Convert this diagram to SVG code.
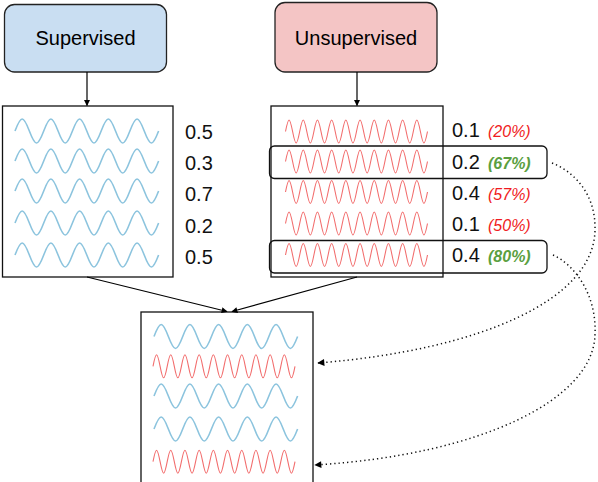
<svg xmlns="http://www.w3.org/2000/svg" xmlns:xlink="http://www.w3.org/1999/xlink" width="598" height="482" viewBox="0 0 598 482">
<style>
.lbl{font-family:"Liberation Sans",Arial,sans-serif;font-size:20px;fill:#000}
.val{font-family:"Liberation Sans",Arial,sans-serif;font-size:20px;fill:#111}
.pr{font-family:"Liberation Sans",Arial,sans-serif;font-size:16px;font-style:italic;fill:#f01b22}
.pg{font-family:"Liberation Sans",Arial,sans-serif;font-size:16px;font-style:italic;font-weight:bold;fill:#5b9f3f}
.box{fill:#fff;stroke:#111;stroke-width:1.3}
.hl{fill:none;stroke:#111;stroke-width:1.3}
.bw{fill:none;stroke:#8cc4de;stroke-width:1.6}
.rw{fill:none;stroke:#f26d6d;stroke-width:1.1}
.arr{fill:none;stroke:#000;stroke-width:1.2}
.dot{fill:none;stroke:#111;stroke-width:1.5;stroke-dasharray:1.3 3}
</style>
<defs>
<marker id="ah" viewBox="0 0 10 10" refX="9" refY="5" markerWidth="6" markerHeight="6" markerUnits="userSpaceOnUse" orient="auto">
<path d="M0,0 L10,5 L0,10 z" fill="#000"/>
</marker>
<marker id="ahd" viewBox="0 0 10 10" refX="9" refY="5" markerWidth="8" markerHeight="7" markerUnits="userSpaceOnUse" orient="auto">
<path d="M0,0 L10,5 L0,10 z" fill="#000"/>
</marker>
<path id="blue" class="bw" d="M0,0 c2.34,-6.15 4.58,-12 7.18,-12 s4.84,5.85 7.18,12 s4.58,12 7.18,12 s4.84,-5.85 7.18,-12 s4.58,-12 7.18,-12 s4.84,5.85 7.18,12 s4.58,12 7.18,12 s4.84,-5.85 7.18,-12 s4.58,-12 7.18,-12 s4.84,5.85 7.18,12 s4.58,12 7.18,12 s4.84,-5.85 7.18,-12 s4.58,-12 7.18,-12 s4.84,5.85 7.18,12 s4.58,12 7.18,12 s4.84,-5.85 7.18,-12 s4.58,-12 7.18,-12 s4.84,5.85 7.18,12 s4.58,12 7.18,12 s4.84,-5.85 7.18,-12"/>
<path id="red" class="rw" d="M0,0 c1.16,-5.89 2.27,-11.5 3.55,-11.5 s2.39,5.61 3.55,11.5 s2.27,11.5 3.55,11.5 s2.39,-5.61 3.55,-11.5 s2.27,-11.5 3.55,-11.5 s2.39,5.61 3.55,11.5 s2.27,11.5 3.55,11.5 s2.39,-5.61 3.55,-11.5 s2.27,-11.5 3.55,-11.5 s2.39,5.61 3.55,11.5 s2.27,11.5 3.55,11.5 s2.39,-5.61 3.55,-11.5 s2.27,-11.5 3.55,-11.5 s2.39,5.61 3.55,11.5 s2.27,11.5 3.55,11.5 s2.39,-5.61 3.55,-11.5 s2.27,-11.5 3.55,-11.5 s2.39,5.61 3.55,11.5 s2.27,11.5 3.55,11.5 s2.39,-5.61 3.55,-11.5 s2.27,-11.5 3.55,-11.5 s2.39,5.61 3.55,11.5 s2.27,11.5 3.55,11.5 s2.39,-5.61 3.55,-11.5 s2.27,-11.5 3.55,-11.5 s2.39,5.61 3.55,11.5 s2.27,11.5 3.55,11.5 s2.39,-5.61 3.55,-11.5 s2.27,-11.5 3.55,-11.5 s2.39,5.61 3.55,11.5 s2.27,11.5 3.55,11.5 s2.39,-5.61 3.55,-11.5 s2.27,-11.5 3.55,-11.5 s2.39,5.61 3.55,11.5 s2.27,11.5 3.55,11.5 s2.39,-5.61 3.55,-11.5 s2.27,-11.5 3.55,-11.5 s2.39,5.61 3.55,11.5 s2.27,11.5 3.55,11.5 s2.39,-5.61 3.55,-11.5"/>
</defs>
<rect width="598" height="482" fill="#fff"/>

<g id="supervised">
<rect x="4.5" y="4.5" width="162" height="67.5" rx="10" fill="#c9def2" stroke="#222" stroke-width="1.3"/>
<text class="lbl" x="85.5" y="45" text-anchor="middle">Supervised</text>
</g>

<g id="unsupervised">
<rect x="275" y="2.5" width="162" height="69.5" rx="10" fill="#f4c5c5" stroke="#222" stroke-width="1.3"/>
<text class="lbl" x="356" y="45" text-anchor="middle">Unsupervised</text>
</g>

<g id="supervised-samples">
<rect class="box" x="2.5" y="106" width="170.5" height="171"/>
<use xlink:href="#blue" x="15" y="131"/>
<use xlink:href="#blue" x="15" y="161"/>
<use xlink:href="#blue" x="15" y="191"/>
<use xlink:href="#blue" x="15" y="223"/>
<use xlink:href="#blue" x="15" y="255"/>
<text class="val" x="185" y="139">0.5</text>
<text class="val" x="185" y="170">0.3</text>
<text class="val" x="185" y="201">0.7</text>
<text class="val" x="185" y="233">0.2</text>
<text class="val" x="185" y="264">0.5</text>
</g>

<g id="unsupervised-samples">
<rect class="box" x="271" y="106" width="172" height="171"/>
<use xlink:href="#red" x="285.5" y="131.5"/>
<use xlink:href="#red" x="285.5" y="161.5"/>
<use xlink:href="#red" x="285.5" y="192"/>
<use xlink:href="#red" x="285.5" y="223.5"/>
<use xlink:href="#red" x="285.5" y="255"/>
<text class="val" x="452" y="137">0.1</text><text class="pr" x="488" y="137">(20%)</text>
<text class="val" x="452" y="168.5">0.2</text><text class="pg" x="488" y="168.5">(67%)</text>
<text class="val" x="452" y="199.5">0.4</text><text class="pr" x="488" y="199.5">(57%)</text>
<text class="val" x="452" y="231">0.1</text><text class="pr" x="488" y="231">(50%)</text>
<text class="val" x="452" y="262">0.4</text><text class="pg" x="488" y="262">(80%)</text>
</g>

<g id="selected">
<rect class="hl" x="269.5" y="146" width="277.5" height="32.5" rx="5"/>
<rect class="hl" x="269.5" y="240.5" width="277.5" height="32.5" rx="5"/>
</g>

<g id="output">
<rect class="box" x="141" y="312" width="172" height="200"/>
<use xlink:href="#blue" x="154" y="336.5"/>
<use xlink:href="#red" x="153" y="366.3"/>
<use xlink:href="#blue" x="154" y="396"/>
<use xlink:href="#blue" x="154" y="429"/>
<use xlink:href="#red" x="153" y="461.7"/>
</g>

<g id="connectors">
<line class="arr" x1="87" y1="72" x2="87" y2="105.5" marker-end="url(#ah)"/>
<line class="arr" x1="357" y1="72" x2="357" y2="105.5" marker-end="url(#ah)"/>
<line class="arr" x1="87" y1="277" x2="227" y2="311.5" marker-end="url(#ah)"/>
<line class="arr" x1="357" y1="277" x2="232" y2="311.5" marker-end="url(#ah)"/>
<path class="dot" d="M552,163 C575,172 596,195 595,230 C594,300 480,350 318,363" marker-end="url(#ahd)"/>
<path class="dot" d="M553,255 C575,265 597,295 595,335 C593,400 480,455 315,465" marker-end="url(#ahd)"/>
</g>
</svg>
